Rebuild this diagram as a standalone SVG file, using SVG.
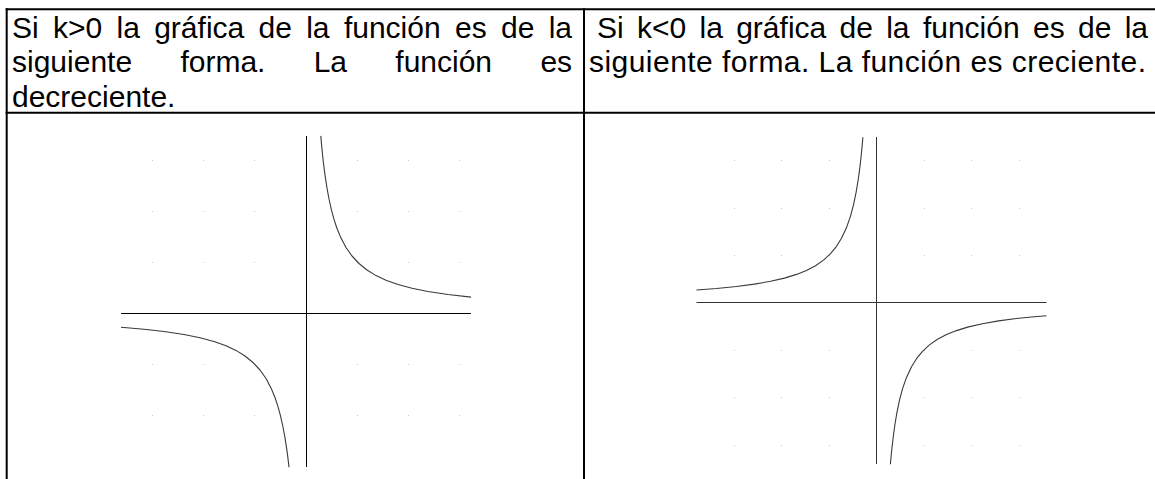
<svg xmlns="http://www.w3.org/2000/svg" width="1155" height="479" viewBox="0 0 1155 479">
<style>
.t{font-family:"Liberation Sans",Arial,sans-serif;font-size:30px;fill:#000}
.rule{stroke:#000;stroke-width:2;fill:none}
.axL{stroke:#000;stroke-width:1;fill:none}
.axR{stroke:#333;stroke-width:1;fill:none}
.curve{stroke:#3a3a3a;stroke-width:1.1;fill:none;stroke-linejoin:round}
.dot{fill:#c8c8c8}
</style>
<rect width="1155" height="479" fill="#fff"/>
<g id="table">
<line class="rule" x1="5.7" y1="9.2" x2="1155" y2="9.2"/>
<line class="rule" x1="6.7" y1="8.2" x2="6.7" y2="479"/>
<line class="rule" x1="584" y1="8.2" x2="584" y2="479"/>
<line class="rule" x1="5.7" y1="112.7" x2="1155" y2="112.7"/>
</g>
<g id="text-k-pos" class="t">
<text y="37.5"><tspan x="12">Si</tspan><tspan x="53">k&gt;0</tspan><tspan x="116.5">la</tspan><tspan x="154.2">gráfica</tspan><tspan x="258.6">de</tspan><tspan x="306.2">la</tspan><tspan x="343.9">función</tspan><tspan x="455">es</tspan><tspan x="501">de</tspan><tspan x="548.7">la</tspan></text>
<text y="72"><tspan x="12">siguiente</tspan><tspan x="180.4">forma.</tspan><tspan x="313.7">La</tspan><tspan x="395.3">función</tspan><tspan x="540.4">es</tspan></text>
<text x="12" y="106.5">decreciente.</text>
</g>
<g id="text-k-neg" class="t">
<text y="37.5"><tspan x="597">Si</tspan><tspan x="637">k&lt;0</tspan><tspan x="699.5">la</tspan><tspan x="736.2">gráfica</tspan><tspan x="839.6">de</tspan><tspan x="886.2">la</tspan><tspan x="922.9">función</tspan><tspan x="1033">es</tspan><tspan x="1078">de</tspan><tspan x="1124.7">la</tspan></text>
<text x="589" y="72" textLength="557" lengthAdjust="spacing">siguiente forma. La función es creciente.</text>
</g>
<g id="graph-k-pos">
<g class="dot">
<rect x="152" y="160" width="1" height="1"/><rect x="203" y="160" width="1" height="1"/><rect x="254" y="160" width="1" height="1"/><rect x="357" y="160" width="1" height="1"/><rect x="408" y="160" width="1" height="1"/><rect x="459" y="160" width="1" height="1"/>
<rect x="152" y="211" width="1" height="1"/><rect x="203" y="211" width="1" height="1"/><rect x="254" y="211" width="1" height="1"/><rect x="357" y="211" width="1" height="1"/><rect x="408" y="211" width="1" height="1"/><rect x="459" y="211" width="1" height="1"/>
<rect x="152" y="262" width="1" height="1"/><rect x="203" y="262" width="1" height="1"/><rect x="254" y="262" width="1" height="1"/><rect x="357" y="262" width="1" height="1"/><rect x="408" y="262" width="1" height="1"/><rect x="459" y="262" width="1" height="1"/>
<rect x="152" y="364" width="1" height="1"/><rect x="203" y="364" width="1" height="1"/><rect x="254" y="364" width="1" height="1"/><rect x="357" y="364" width="1" height="1"/><rect x="408" y="364" width="1" height="1"/><rect x="459" y="364" width="1" height="1"/>
<rect x="152" y="415" width="1" height="1"/><rect x="203" y="415" width="1" height="1"/><rect x="254" y="415" width="1" height="1"/><rect x="357" y="415" width="1" height="1"/><rect x="408" y="415" width="1" height="1"/><rect x="459" y="415" width="1" height="1"/>
</g>
<line class="axL" x1="121" y1="313.5" x2="471" y2="313.5"/>
<line class="axL" x1="306.5" y1="136" x2="306.5" y2="467"/>
<polyline class="curve" points="320.8,135.9 321.5,143.9 322.5,154.2 323.5,163.2 325,175.1 327,188.2 329,199 331.5,210.2 334,219.4 337,228.5 341,238.1 346,247.5 352,256 359,263.5 367,270 376,275.6 386,280.2 398,284.5 412,288.3 428,291.5 448,294.5 471,297.1"/>
<polyline class="curve" points="289,467.2 288,458.6 287,450.9 285,437.8 283,427 280.5,415.8 278,406.6 275,397.5 271,387.9 266,378.5 260,370 253,362.5 245,356 236,350.4 226,345.8 214,341.5 200,337.7 184,334.5 164,331.5 144,329.2 121,327.2"/>
</g>
<g id="graph-k-neg">
<g class="dot">
<rect x="734" y="160" width="1" height="1"/><rect x="781" y="160" width="1" height="1"/><rect x="829" y="160" width="1" height="1"/><rect x="924" y="160" width="1" height="1"/><rect x="971" y="160" width="1" height="1"/><rect x="1019" y="160" width="1" height="1"/>
<rect x="734" y="208" width="1" height="1"/><rect x="781" y="208" width="1" height="1"/><rect x="829" y="208" width="1" height="1"/><rect x="924" y="208" width="1" height="1"/><rect x="971" y="208" width="1" height="1"/><rect x="1019" y="208" width="1" height="1"/>
<rect x="734" y="255" width="1" height="1"/><rect x="781" y="255" width="1" height="1"/><rect x="829" y="255" width="1" height="1"/><rect x="924" y="255" width="1" height="1"/><rect x="971" y="255" width="1" height="1"/><rect x="1019" y="255" width="1" height="1"/>
<rect x="734" y="350" width="1" height="1"/><rect x="781" y="350" width="1" height="1"/><rect x="829" y="350" width="1" height="1"/><rect x="924" y="350" width="1" height="1"/><rect x="971" y="350" width="1" height="1"/><rect x="1019" y="350" width="1" height="1"/>
<rect x="734" y="397" width="1" height="1"/><rect x="781" y="397" width="1" height="1"/><rect x="829" y="397" width="1" height="1"/><rect x="924" y="397" width="1" height="1"/><rect x="971" y="397" width="1" height="1"/><rect x="1019" y="397" width="1" height="1"/>
<rect x="734" y="445" width="1" height="1"/><rect x="781" y="445" width="1" height="1"/><rect x="829" y="445" width="1" height="1"/><rect x="924" y="445" width="1" height="1"/><rect x="971" y="445" width="1" height="1"/><rect x="1019" y="445" width="1" height="1"/>
</g>
<line class="axR" x1="696.5" y1="302.5" x2="1046.5" y2="302.5"/>
<line class="axR" x1="876.5" y1="137" x2="876.5" y2="464"/>
<polyline class="curve" points="862.9,137.3 862,147.5 861,157.5 859.5,170.3 858,181 856,192.9 853.5,204.8 850.5,216.1 846.5,227.6 841.5,238.3 836.5,246.3 830.5,253.7 823.5,260.1 815.5,265.7 806.5,270.4 796.5,274.4 784.5,278.1 770.5,281.3 754.5,284.1 736.5,286.5 716.5,288.5 696.5,290"/>
<polyline class="curve" points="890.4,464.2 891,457.5 892,447.5 893.5,434.7 895,424 897,412.1 899.5,400.2 902.5,388.9 906.5,377.4 911.5,366.7 916.5,358.7 922.5,351.3 929.5,344.9 937.5,339.3 946.5,334.6 956.5,330.6 968.5,326.9 982.5,323.7 998.5,320.9 1016.5,318.5 1031.5,317 1046.5,315.7"/>
</g>
</svg>
